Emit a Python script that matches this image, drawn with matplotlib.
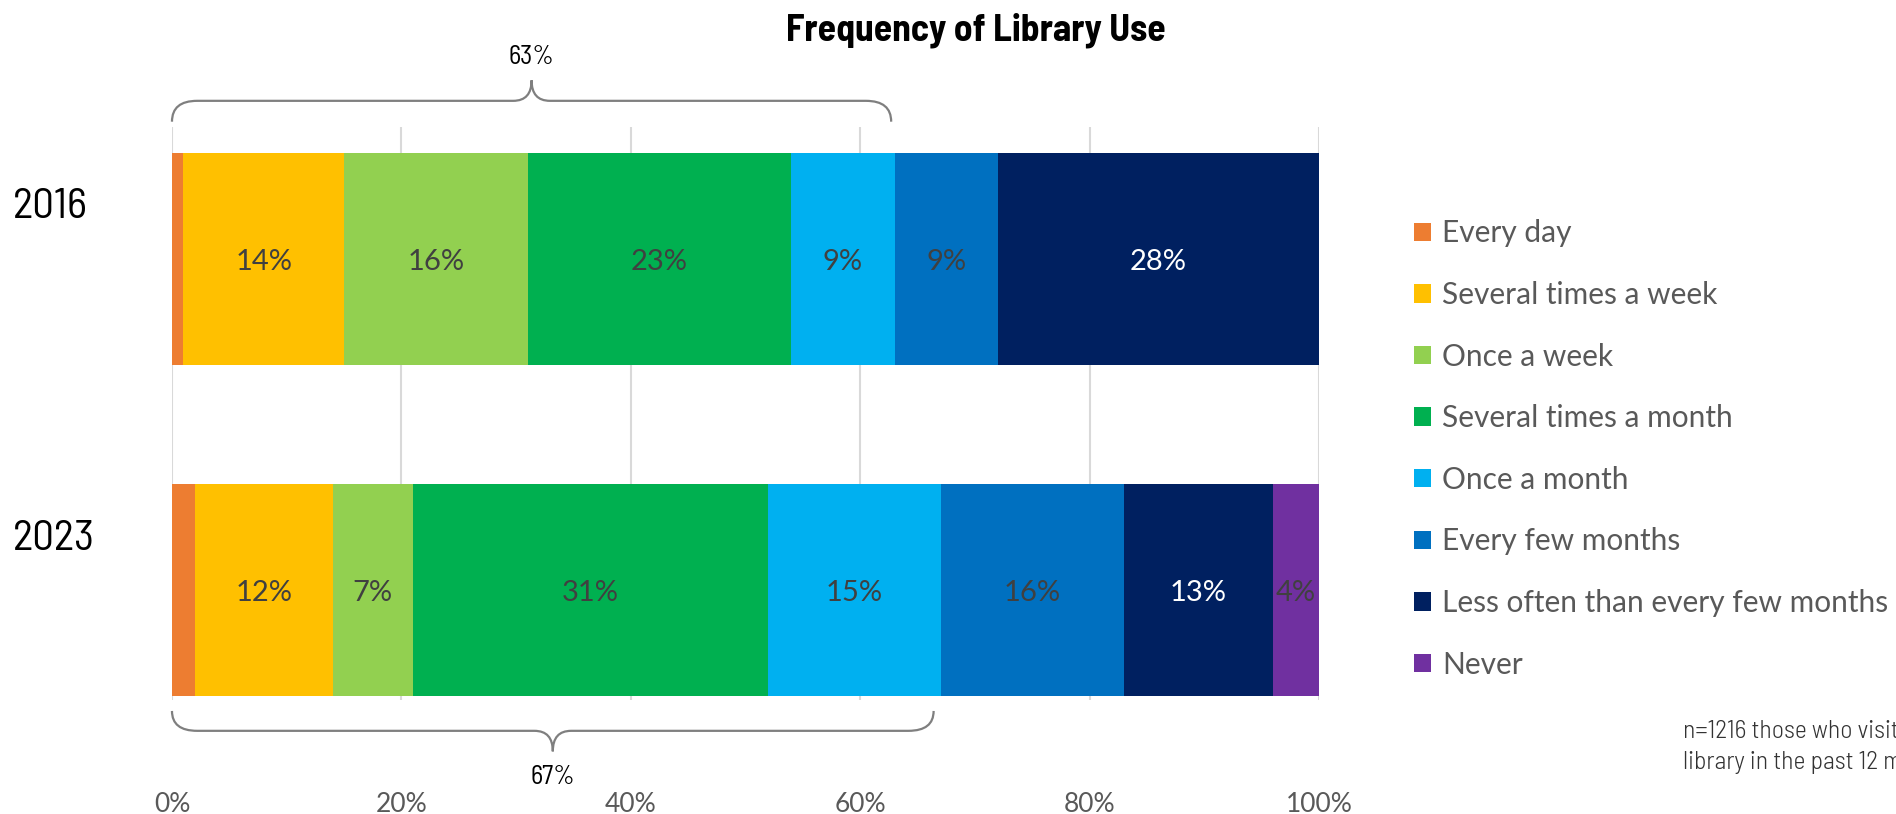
import matplotlib
matplotlib.use('Agg')
import matplotlib.pyplot as plt
from matplotlib.path import Path
from matplotlib.patches import PathPatch
import numpy as np

# data
years = ['2016', '2023']
categories = ['Every day', 'Several times a week', 'Once a week', 'Several times a month',
              'Once a month', 'Every few months', 'Less often than every few months', 'Never']
colors = ['#ED7D31', '#FFC000', '#92D050', '#00B050', '#00B0F0', '#0070C0', '#002060', '#7030A0']
vals_2016 = [1, 14, 16, 23, 9, 9, 28, 0]
vals_2023 = [2, 12, 7, 31, 15, 16, 13, 4]
xticks = [0, 20, 40, 60, 80, 100]

cond = 'Barlow Semi Condensed'
body = 'Lato'

fig = plt.figure(figsize=(18.96, 8.14), dpi=100)
ax = fig.add_axes([0.0907, 0.140, 0.605, 0.704])

data = np.array([vals_2016, vals_2023], dtype=float)
ypos = np.arange(len(years))
left = np.zeros(len(years))
bar_h = 0.64
handles = []
for i, cat in enumerate(categories):
    b = ax.barh(ypos, data[:, i], left=left, height=bar_h, color=colors[i], label=cat, zorder=2)
    handles.append(b)
    for j in range(len(years)):
        v = data[j, i]
        if v >= 3:
            tc = 'white' if colors[i] == '#002060' else '#404040'
            ax.text(left[j] + v / 2, ypos[j] + 0.01, f'{int(v)}%', ha='center', va='center',
                    fontsize=21, color=tc, family=body, zorder=3)
    left += data[:, i]

ax.set_xlim(0, 100)
ax.set_ylim(1.332, -0.399)
ax.set_yticks([])
ax.set_xticks(xticks)
ax.set_xticklabels([f'{t}%' for t in xticks], family=body, fontsize=19, color='#595959')
ax.tick_params(axis='x', length=0, pad=66)
ax.grid(axis='x', color='#d9d9d9', linewidth=1.5, zorder=0)
for s in ax.spines.values():
    s.set_visible(False)


def brace(x0, x1, y_end, y_mid, y_tip, dx=2.2, tdx=1.6):
    xc = (x0 + x1) / 2
    verts = [(x0, y_end), (x0, y_mid), (x0 + dx, y_mid),
             (xc - tdx, y_mid), (xc, y_mid), (xc, y_tip),
             (xc, y_mid), (xc + tdx, y_mid),
             (x1 - dx, y_mid), (x1, y_mid), (x1, y_end)]
    codes = [Path.MOVETO, Path.CURVE3, Path.CURVE3,
             Path.LINETO, Path.CURVE3, Path.CURVE3,
             Path.CURVE3, Path.CURVE3,
             Path.LINETO, Path.CURVE3, Path.CURVE3]
    p = PathPatch(Path(verts, codes), fill=False, edgecolor='#7f7f7f', linewidth=1.6,
                  clip_on=False, zorder=4)
    ax.add_patch(p)
    return xc


# brackets over "at least monthly" share
top_sum = sum(vals_2016[:5])
bot_sum = sum(vals_2023[:5])
xc = brace(0, top_sum - 0.3, -0.415, -0.478, -0.54)
ax.text(xc, -0.61, f'{top_sum}%', ha='center', va='center', fontsize=19,
        family=cond, color='black', clip_on=False)
xc = brace(0, bot_sum - 0.6, 1.365, 1.425, 1.487)
ax.text(xc, 1.565, f'{bot_sum}%', ha='center', va='center', fontsize=19,
        family=cond, color='black', clip_on=False)

fig.text(0.5148, 0.963, 'Frequency of Library Use', ha='center', va='center',
         fontsize=27, family=cond, weight='bold', color='black')
fig.text(0.007, 1 - 207 / 814, years[0], ha='left', va='center', fontsize=31, family=cond)
fig.text(0.007, 1 - 539 / 814, years[1], ha='left', va='center', fontsize=31, family=cond)

fig.legend(handles=handles, labels=categories, loc='upper left',
           bbox_to_anchor=(0.7458, 0.7305), frameon=False, borderpad=0, borderaxespad=0,
           handlelength=0.57, handleheight=0.57, handletextpad=0.36, labelspacing=1.125,
           prop={'family': body, 'size': 21.5}, labelcolor='#595959')

fig.text(1683 / 1896, 1 - 747 / 814, 'n=1216 those who visited a\nlibrary in the past 12 months',
         ha='left', va='center', fontsize=18.5, family=cond, weight=300, color='#333333',
         linespacing=1.45)

fig.savefig('out.png', dpi=100)
